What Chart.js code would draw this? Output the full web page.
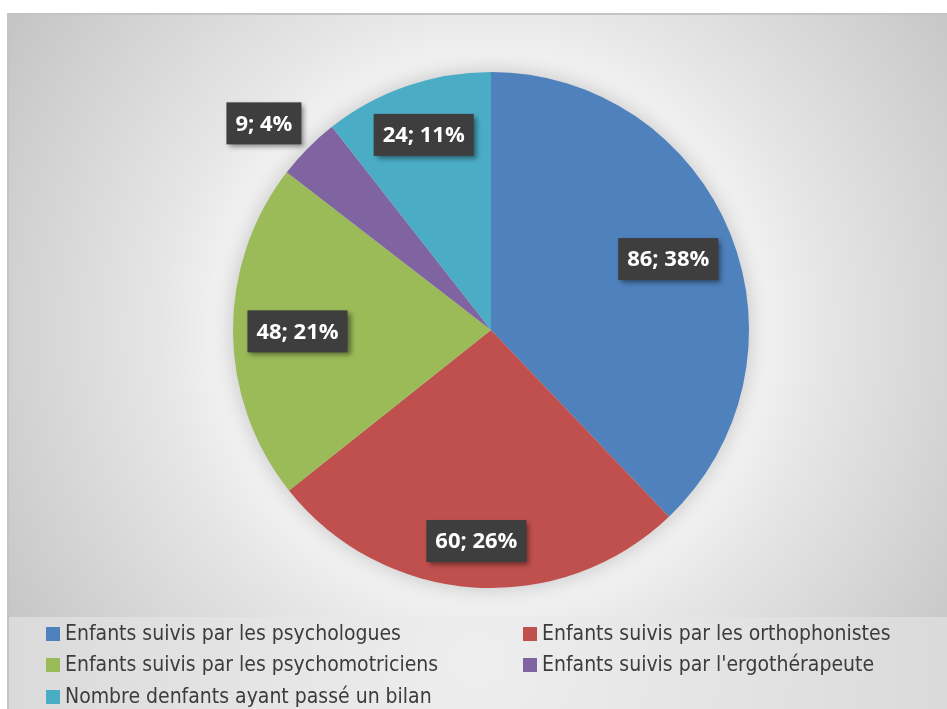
<!DOCTYPE html>
<html>
<head>
<meta charset="utf-8">
<script src="https://cdn.jsdelivr.net/npm/chart.js@4.4.1/dist/chart.umd.min.js"></script>
<style>
    html, body { margin: 0; padding: 0; background: #ffffff; }
    #wrap { width: 947px; height: 709px; }
</style>
</head>
<body>
<div id="wrap"><canvas id="pie-chart" width="947" height="709"></canvas></div>
<script>
// Chart data
const categories = [
    'Enfants suivis par les psychologues',
    'Enfants suivis par les orthophonistes',
    'Enfants suivis par les psychomotriciens',
    "Enfants suivis par l'ergothérapeute",
    'Nombre denfants ayant passé un bilan'
];
const values = [86, 60, 48, 9, 24];
const sliceColors = ['#4f81bd', '#c0504d', '#9bbb59', '#8064a2', '#4bacc6'];

// where each data label sits: fraction of radius, and a small angle nudge (degrees)
const labelRadius = [0.74, 0.82, 0.75, 1.19, 0.80];
const labelNudge = [0, 0, 0, -2.5, 0];

const total = values.reduce((a, b) => a + b, 0);

const backgroundPlugin = {
    id: 'officeBackground',
    beforeDraw(chart) {
        const ctx = chart.ctx;
        const W = chart.width, H = chart.height;
        ctx.save();
        ctx.fillStyle = '#ffffff';
        ctx.fillRect(0, 0, W, H);

        // outer chart area (legend band)
        let g = ctx.createRadialGradient(478, 660, 0, 478, 660, 520);
        g.addColorStop(0, '#eeeeee');
        g.addColorStop(1, '#d8d8d8');
        ctx.fillStyle = g;
        ctx.fillRect(8, 13, W - 8, H - 13);

        // plot area
        g = ctx.createRadialGradient(491, 330, 0, 491, 330, 590);
        g.addColorStop(0, '#ffffff');
        g.addColorStop(0.45, '#f2f2f2');
        g.addColorStop(0.56, '#e6e6e6');
        g.addColorStop(1, '#c2c2c2');
        ctx.fillStyle = g;
        ctx.fillRect(8, 13, W - 8, 604);

        ctx.strokeStyle = '#c4c4c4';
        ctx.lineWidth = 2;
        ctx.beginPath();
        ctx.moveTo(8, H);
        ctx.lineTo(8, 14);
        ctx.lineTo(W, 14);
        ctx.stroke();
        ctx.restore();
    },
    beforeDatasetsDraw(chart) {
        // soft glow under the pie
        const arc = chart.getDatasetMeta(0).data[0];
        if (!arc) return;
        const ctx = chart.ctx;
        ctx.save();
        ctx.shadowColor = 'rgba(0, 0, 0, 0.22)';
        ctx.shadowBlur = 22;
        ctx.fillStyle = '#dddddd';
        ctx.beginPath();
        ctx.arc(arc.x, arc.y, arc.outerRadius - 1, 0, Math.PI * 2);
        ctx.fill();
        ctx.restore();
    }
};

const labelPlugin = {
    id: 'boxLabels',
    afterDatasetsDraw(chart) {
        const ctx = chart.ctx;
        const meta = chart.getDatasetMeta(0);
        ctx.save();
        ctx.font = "bold 22px 'Open Sans', 'Noto Sans', sans-serif";
        ctx.textAlign = 'center';
        ctx.textBaseline = 'middle';
        meta.data.forEach((arc, i) => {
            const p = arc.getProps(['x', 'y', 'startAngle', 'endAngle', 'outerRadius'], true);
            const mid = (p.startAngle + p.endAngle) / 2 + labelNudge[i] * Math.PI / 180;
            const r = p.outerRadius * labelRadius[i];
            const cx = p.x + Math.cos(mid) * r;
            const cy = p.y + Math.sin(mid) * r;
            const text = values[i] + '; ' + Math.round(values[i] / total * 100) + '%';
            const w = ctx.measureText(text).width + 18;
            const h = 42;

            ctx.save();
            ctx.shadowColor = 'rgba(0, 0, 0, 0.45)';
            ctx.shadowBlur = 5;
            ctx.shadowOffsetX = 3;
            ctx.shadowOffsetY = 3;
            ctx.fillStyle = '#3e3e3e';
            ctx.fillRect(cx - w / 2, cy - h / 2, w, h);
            ctx.restore();

            ctx.fillStyle = '#ffffff';
            ctx.fillText(text, cx, cy + 1);
        });
        ctx.restore();
    }
};

const legendPlugin = {
    id: 'twoColumnLegend',
    afterDraw(chart) {
        const ctx = chart.ctx;
        const cols = [46, 523];
        const rows = [634, 665, 697];
        ctx.save();
        ctx.font = "21px 'Liberation Sans Narrow', 'DejaVu Sans Condensed', sans-serif";
        ctx.textBaseline = 'middle';
        ctx.textAlign = 'left';
        categories.forEach((label, i) => {
            const x = cols[i % 2];
            const y = rows[Math.floor(i / 2)];
            ctx.fillStyle = sliceColors[i];
            ctx.fillRect(x, y - 7, 14, 14);
            ctx.fillStyle = '#3c3c3c';
            ctx.fillText(label, x + 19, y + 1);
        });
        ctx.restore();
    }
};

const ctx = document.getElementById('pie-chart').getContext('2d');
const pieChart = new Chart(ctx, {
    type: 'pie',
    data: {
        labels: categories,
        datasets: [{
            data: values,
            backgroundColor: sliceColors,
            borderWidth: 0
        }]
    },
    options: {
        responsive: false,
        animation: false,
        layout: {
            padding: { left: 233, right: 198, top: 72, bottom: 121 }
        },
        plugins: {
            legend: { display: false },
            tooltip: { enabled: false }
        }
    },
    plugins: [backgroundPlugin, labelPlugin, legendPlugin]
});
</script>
</body>
</html>
